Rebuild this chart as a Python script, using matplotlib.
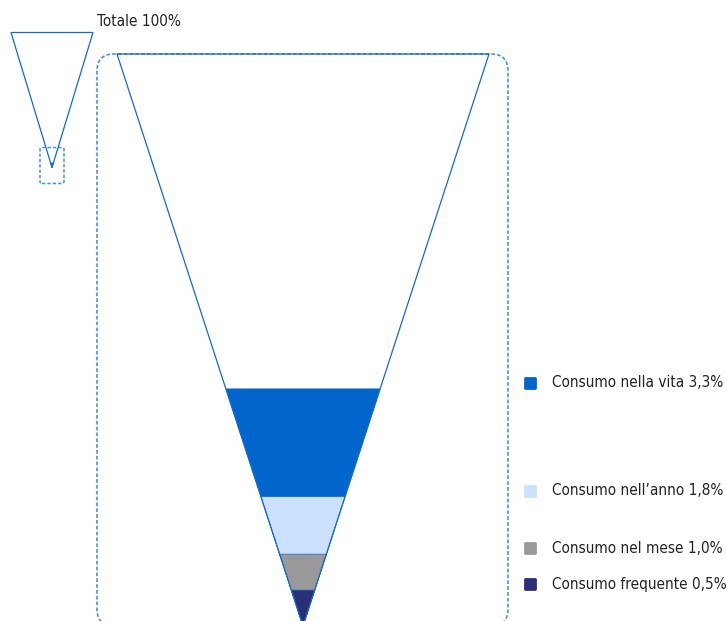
import matplotlib.pyplot as plt
import matplotlib.transforms as mtransforms
from matplotlib.markers import MarkerStyle
from matplotlib.patches import FancyBboxPatch, Polygon

# data
labels = ['Consumo nella vita 3,3%', 'Consumo nell\u2019anno 1,8%',
          'Consumo nel mese 1,0%', 'Consumo frequente 0,5%']
values = [3.3, 1.8, 1.0, 0.5]
colors = ['#0066CC', '#CCE0FF', '#999999', '#2B2F77']
total_label = 'Totale 100%'
total_value = 100.0
zoom_top = 7.96  # value at the top of the zoomed funnel

OUTLINE = '#1469CF'
DASH = '#4A8FE0'
TXT = '#222222'
FONT = dict(family='DejaVu Sans', fontstretch='condensed', fontsize=11)

W, H = 726, 621
fig = plt.figure(figsize=(W / 100, H / 100), dpi=100)


def px_axes(l, t, r, b):
    ax = fig.add_axes([l / W, 1 - b / H, (r - l) / W, (b - t) / H])
    ax.set_axis_off()
    return ax


def draw_funnel(ax, top):
    ax.set_xlim(-1, 1)
    ax.set_ylim(0, top)
    for v, c in zip(values, colors):
        hw = v / top
        ax.add_patch(Polygon([(-hw, v), (hw, v), (0, 0)], closed=True,
                             facecolor=c, edgecolor=OUTLINE, lw=0.5, clip_on=False))
    ax.add_patch(Polygon([(-1, top), (1, top), (0, 0)], closed=True,
                         fill=False, edgecolor=OUTLINE, lw=0.9, clip_on=False))


# overlay for the dashed zoom frames (pixel units, y up)
over = fig.add_axes([0, 0, 1, 1])
over.set_axis_off()
over.set_xlim(0, W)
over.set_ylim(0, H)
over.add_patch(FancyBboxPatch((97, H - 626), 411, 572, boxstyle='round,pad=0,rounding_size=17',
                              fill=False, edgecolor=DASH, lw=1.2, linestyle=(0, (2.2, 1.3))))
over.add_patch(FancyBboxPatch((40, H - 183.5), 24, 36, boxstyle='round,pad=0,rounding_size=2',
                              fill=False, edgecolor=DASH, lw=1.1, linestyle=(0, (2.2, 1.3))))

# small funnel (total)
small = px_axes(11, 32.5, 93, 167.5)
draw_funnel(small, total_value)
small.text(1.1, total_value * 1.08, total_label, color=TXT,
           ha='left', va='center', clip_on=False, **FONT)

# zoomed funnel
big = px_axes(117, 54, 489, 626)
draw_funnel(big, zoom_top)

lab_tr = mtransforms.offset_copy(big.transData, fig=fig, y=6, units='dots')
for v, c, lab in zip(values, colors, labels):
    big.plot([1.22], [v], marker=MarkerStyle('s', joinstyle='round'), markersize=7.5,
             markeredgewidth=2, color=c, transform=lab_tr, clip_on=False)
    big.text(1.337, v, lab, color=TXT, ha='left', va='center',
             transform=lab_tr, clip_on=False, **FONT)

fig.savefig('out.png', dpi=100)
